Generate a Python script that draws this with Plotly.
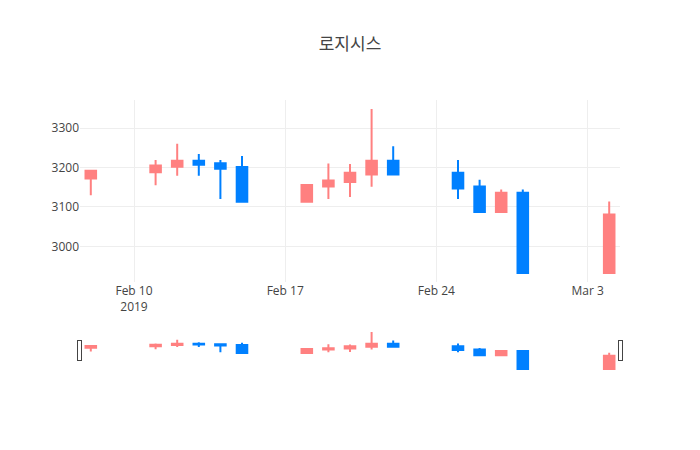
import plotly.graph_objects as go

dates = ["2019-02-08", "2019-02-11", "2019-02-12", "2019-02-13", "2019-02-14",
         "2019-02-15", "2019-02-18", "2019-02-19", "2019-02-20", "2019-02-21",
         "2019-02-22", "2019-02-25", "2019-02-26", "2019-02-27", "2019-02-28",
         "2019-03-04"]
open_ = [3172, 3188, 3202, 3217, 3211, 3201, 3113, 3152, 3163, 3182,
         3217, 3187, 3152, 3087, 3136, 2933]
high = [3194, 3219, 3260, 3234, 3219, 3229, 3156, 3210, 3209, 3348,
        3254, 3219, 3169, 3144, 3144, 3114]
low = [3130, 3155, 3179, 3179, 3120, 3113, 3113, 3120, 3125, 3151,
       3182, 3120, 3085, 3087, 2933, 2933]
close = [3192, 3205, 3217, 3207, 3197, 3113, 3156, 3167, 3187, 3217,
         3182, 3147, 3087, 3136, 2933, 3081]

up_color = "#ff8080"
down_color = "#0080ff"

fig = go.Figure()
fig.add_trace(go.Candlestick(
    x=dates, open=open_, high=high, low=low, close=close,
    increasing=dict(line=dict(color=up_color), fillcolor=up_color),
    decreasing=dict(line=dict(color=down_color), fillcolor=down_color),
))

# page body has an 8px margin, so shrink the figure to keep the plot where it belongs
fig.update_layout(
    template="none",
    width=692, height=442,
    margin=dict(l=72, r=80, t=92, b=80),
    title=dict(text="로지시스", x=0.5, xref="paper", y=0.918, yanchor="middle"),
    font=dict(family="Open Sans, Noto Sans CJK KR, sans-serif", color="#444"),
    showlegend=False,
    xaxis=dict(rangeslider=dict(visible=True)),
)

fig.write_html("out.html")
